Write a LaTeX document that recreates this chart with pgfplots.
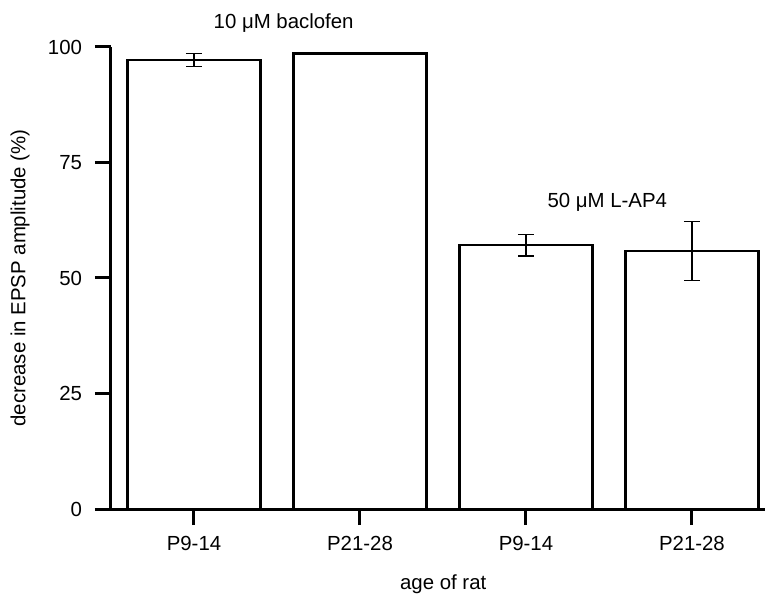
\documentclass[border=0pt]{standalone}
\usepackage{fontspec}
\setmainfont{Liberation Sans}
\usepackage{pgfplots}
\pgfplotsset{compat=1.18}
\begin{document}
\begin{tikzpicture}[font=\fontsize{10.2bp}{12bp}\selectfont]
\path[use as bounding box] (-55.5bp,-46bp) rectangle (327bp,254.5bp);
\begin{axis}[
  at={(0,0)}, anchor=south west,
  scale only axis, width=327bp, height=231bp,
  xmin=-0.5, xmax=3.44, ymin=0, ymax=100,
  axis x line=bottom, axis y line=left,
  axis line style={line width=1.5bp, -},
  xtick={0,1,2,3}, xticklabels={P9-14,P21-28,P9-14,P21-28},
  ytick={0,25,50,75,100},
  tick align=outside, major tick length=8bp,
  tick style={line width=1.5bp, black},
  /pgf/number format/assume math mode=true,
  yticklabel style={xshift=-3bp},
  xticklabel style={yshift=-2bp},
  clip=false,
  ybar, bar width=0.8,
]
\addplot[draw=black, fill=white, line width=1.15bp,
  error bars/.cd, y dir=both, y explicit,
  error bar style={line width=0.7bp, black},
  error mark options={rotate=90, mark size=4bp, line width=0.7bp, black}]
  coordinates {
  (0,97.2) +- (0,1.4)
  (1,98.6) +- (0,0.15)
  (2,57.1) +- (0,2.3)
  (3,55.8) +- (0,6.4)
};
\node[anchor=base] at (axis cs:0.54,104.1) {10 μM baclofen};
\node[anchor=base] at (axis cs:2.49,65.2) {50 μM L-AP4};
\node[anchor=base] at (axis description cs:0.508,-0.175) {age of rat};
\node[rotate=90, anchor=center] at (axis description cs:-0.139,0.5) {decrease in EPSP amplitude (\%)};
\end{axis}
\end{tikzpicture}
\end{document}
